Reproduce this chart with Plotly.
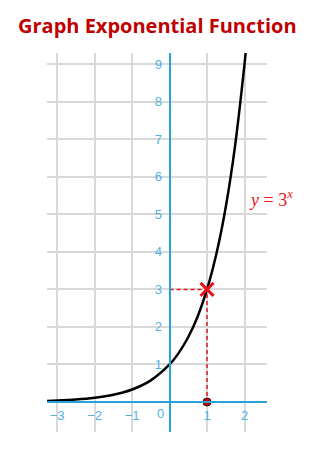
import plotly.graph_objects as go

# Curve y = 3^x
curve_x = [-3.27, -3.0, -2.5, -2.0, -1.5, -1.0, -0.5, 0.0, 0.25, 0.5, 0.75, 1.0, 1.25, 1.5, 1.75, 2.0, 2.03]
curve_y = [0.0276, 0.037, 0.064, 0.111, 0.192, 0.333, 0.577, 1.0, 1.316, 1.732, 2.280, 3.0, 3.948, 5.196, 6.839, 9.0, 9.3]

point_x = 1
point_y = 3

x_ticks = [-3, -2, -1, 1, 2]
x_tick_text = ["\u22123", "\u22122", "\u22121", "1", "2"]
y_ticks = [1, 2, 3, 4, 5, 6, 7, 8, 9]

title_text = "Graph Exponential Function"
eq_text = "<i>y</i> = 3<sup><i>x</i></sup>"

x_range = [-3.27, 2.60]
y_range = [-0.80, 9.30]

AXIS = "#29a3d6"
LABEL = "#4fb2df"
GRID = "#d9d9d9"
RED = "#e8141b"

fig = go.Figure()

# dashed guides
fig.add_trace(go.Scatter(x=[0, point_x, point_x], y=[point_y, point_y, 0], mode="lines",
                         line=dict(color=RED, width=1.5, dash="4px,3px"), hoverinfo="skip"))
# curve
fig.add_trace(go.Scatter(x=curve_x, y=curve_y, mode="lines", line=dict(color="black", width=2.5, shape="spline"),
                         hoverinfo="skip", cliponaxis=True))
# point on x-axis
fig.add_trace(go.Scatter(x=[point_x], y=[0], mode="markers",
                         marker=dict(color="#c00000", size=8, line=dict(color="#400000", width=1)),
                         cliponaxis=False))
# X marker
fig.add_trace(go.Scatter(x=[point_x], y=[point_y], mode="markers",
                         marker=dict(symbol="x-thin", size=13, line=dict(color=RED, width=3)),
                         cliponaxis=False))

px0 = (0 - x_range[0]) / (x_range[1] - x_range[0])
py0 = (0 - y_range[0]) / (y_range[1] - y_range[0])

fig.update_layout(
    width=327, height=449,
    margin=dict(l=47, r=60, t=53, b=17),
    paper_bgcolor="white", plot_bgcolor="white",
    showlegend=False,
    title=dict(text=f"<b>{title_text}</b>", x=18/327, xanchor="left", xref="container",
               y=1 - 26/449, yanchor="middle", yref="container",
               font=dict(family="Open Sans", size=20, color="#c00000")),
    xaxis=dict(range=x_range, tickvals=x_ticks, ticktext=x_tick_text, showgrid=True, gridcolor=GRID, gridwidth=1.5,
               zeroline=False, showline=True, linecolor=AXIS, linewidth=2, anchor="free", position=py0,
               ticks="", ticklabelstandoff=1, tickfont=dict(family="Liberation Sans", size=13, color=LABEL),
               fixedrange=True),
    yaxis=dict(range=y_range, tickvals=y_ticks, showgrid=True, gridcolor=GRID, gridwidth=1.5,
               zeroline=False, showline=True, linecolor=AXIS, linewidth=2, anchor="free", position=px0,
               ticks="", ticklabelstandoff=4, tickfont=dict(family="Liberation Sans", size=13, color=LABEL),
               fixedrange=True),
)

fig.add_annotation(x=0, y=0, text="0", showarrow=False, xshift=-9, yshift=-12,
                   font=dict(family="Liberation Sans", size=13, color=LABEL))
fig.add_annotation(x=1.02, y=0.615, xref="paper", yref="paper", text=eq_text, showarrow=False,
                   xanchor="center", yanchor="middle",
                   font=dict(family="Liberation Serif", size=18, color=RED))

fig.write_html("out.html")
